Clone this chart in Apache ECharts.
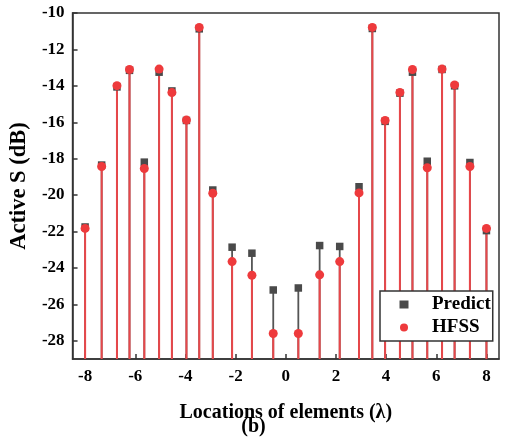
<!DOCTYPE html>
<html>
<head>
<meta charset="utf-8">
<script src="https://cdn.jsdelivr.net/npm/echarts@6/dist/echarts.min.js"></script>
<style>
  html, body { margin: 0; padding: 0; background: #fff; }
  #chart { width: 507px; height: 446px; }
</style>
</head>
<body>
<div id="chart"></div>
<script>
// Element locations along the array (in wavelengths)
const locations = [-8.0, -7.34, -6.73, -6.23, -5.64, -5.05, -4.54, -3.96, -3.45, -2.91, -2.14, -1.35, -0.5,
                   0.5, 1.35, 2.15, 2.92, 3.45, 3.96, 4.55, 5.05, 5.64, 6.23, 6.73, 7.34, 8.0];
// Active S-parameter (dB) from the prediction model
const predict = [-21.75, -18.35, -14.06, -13.15, -18.19, -13.25, -14.28, -15.9, -10.87, -19.72, -22.86, -23.19, -25.21,
                 -25.1, -22.77, -22.82, -19.54, -10.85, -15.95, -14.4, -13.25, -18.14, -13.1, -14.0, -18.21, -21.95];
// Active S-parameter (dB) from the full-wave HFSS simulation
const hfss = [-21.83, -18.43, -13.99, -13.1, -18.54, -13.08, -14.37, -15.88, -10.79, -19.9, -23.65, -24.4, -27.6,
              -27.6, -24.38, -23.65, -19.88, -10.79, -15.9, -14.36, -13.1, -18.5, -13.08, -13.95, -18.43, -21.83];
// Axis tick labels
const xTicks = [-8, -6, -4, -2, 0, 2, 4, 6, 8];
const yTicks = [-28, -26, -24, -22, -20, -18, -16, -14, -12, -10];

const FONT = '"Liberation Serif", "Times New Roman", serif';
const GRAY = '#4a4a4a';
const RED = '#ee3a3c';

const pairs = (ys) => locations.map((x, i) => [x, ys[i]]);

// Vertical stem from the bottom of the plot up to each value
function stemRenderer(color, width) {
  return function (params, api) {
    const cs = params.coordSys;
    const top = api.coord([api.value(0), api.value(1)]);
    return {
      type: 'line',
      shape: { x1: top[0], y1: cs.y + cs.height, x2: top[0], y2: top[1] },
      style: { stroke: color, lineWidth: width }
    };
  };
}

const chart = echarts.init(document.getElementById('chart'), null, { renderer: 'canvas' });

chart.setOption({
  animation: false,
  backgroundColor: '#fff',
  textStyle: { fontFamily: FONT },
  grid: {
    left: 70, right: 8, top: 13, bottom: 87,
    show: true, borderColor: '#333', borderWidth: 1.5
  },
  title: {
    text: '(b)',
    left: 'center',
    top: 417,
    padding: 0,
    textStyle: { fontFamily: FONT, fontWeight: 'bold', fontSize: 20, color: '#000' }
  },
  legend: {
    orient: 'vertical',
    left: 380,
    top: 291,
    padding: [4, 2, 4, 19.5],
    itemWidth: 9,
    itemHeight: 8,
    itemGap: 4,
    backgroundColor: '#fff',
    borderColor: '#333',
    borderWidth: 1.5,
    borderRadius: 0,
    data: [
      { name: 'Predict', icon: 'rect' },
      { name: 'HFSS', icon: 'circle' }
    ],
    textStyle: {
      fontFamily: FONT, fontWeight: 'bold', fontSize: 19, color: '#000', lineHeight: 19,
      padding: [0, 0, 0, 18.5]
    }
  },
  xAxis: {
    type: 'value',
    min: -8.5,
    max: 8.5,
    name: 'Locations of elements (λ)',
    nameLocation: 'middle',
    nameGap: 44,
    nameTextStyle: { fontFamily: FONT, fontWeight: 'bold', fontSize: 20, color: '#000' },
    axisLine: { show: true, onZero: false, lineStyle: { color: '#333', width: 1.5 } },
    axisTick: { show: true, inside: true, length: 5, customValues: xTicks, lineStyle: { color: '#333', width: 1.5 } },
    axisLabel: { customValues: xTicks, margin: 9, fontFamily: FONT, fontWeight: 'bold', fontSize: 17, color: '#000' },
    splitLine: { show: false }
  },
  yAxis: {
    type: 'value',
    min: -29,
    max: -10,
    name: 'Active S (dB)',
    nameLocation: 'middle',
    nameGap: 35,
    nameTextStyle: { fontFamily: FONT, fontWeight: 'bold', fontSize: 22.5, color: '#000' },
    axisLine: { show: true, onZero: false, lineStyle: { color: '#333', width: 1.5 } },
    axisTick: { show: true, inside: true, length: 5, customValues: yTicks, lineStyle: { color: '#333', width: 1.5 } },
    axisLabel: { customValues: yTicks, margin: 8, fontFamily: FONT, fontWeight: 'bold', fontSize: 17, color: '#000' },
    splitLine: { show: false }
  },
  series: [
    {
      name: 'PredictStem',
      type: 'custom',
      renderItem: stemRenderer('#555', 1.8),
      data: pairs(predict),
      z: 1,
      silent: true
    },
    {
      name: 'HFSSStem',
      type: 'custom',
      renderItem: stemRenderer('#e8474a', 2),
      data: pairs(hfss),
      z: 2,
      silent: true
    },
    {
      name: 'Predict',
      type: 'scatter',
      symbol: 'rect',
      symbolSize: 7.5,
      itemStyle: { color: GRAY, opacity: 1 },
      data: pairs(predict),
      z: 3
    },
    {
      name: 'HFSS',
      type: 'scatter',
      symbol: 'circle',
      symbolSize: 9,
      itemStyle: { color: RED, opacity: 1 },
      data: pairs(hfss),
      z: 4
    }
  ]
});
</script>
</body>
</html>
